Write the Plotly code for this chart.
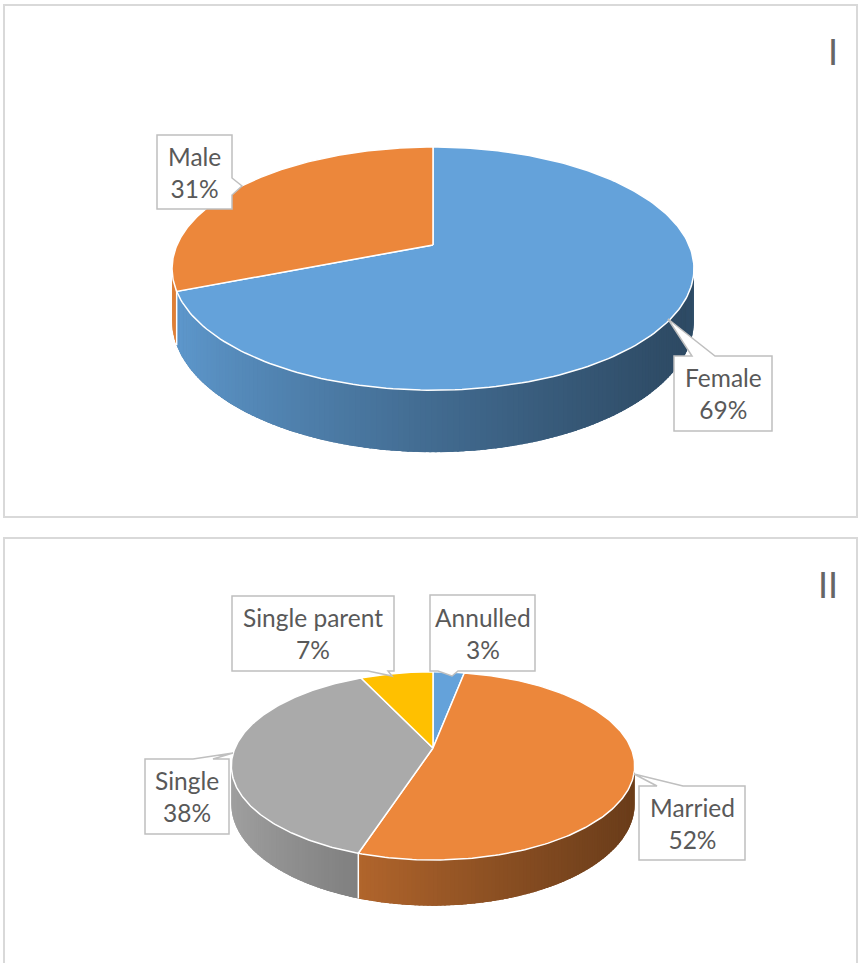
import numpy as np
import plotly.graph_objects as go

# Panel I: gender split
gender_labels = ["Female", "Male"]
gender_values = [69, 31]
gender_colors = ["#64A2DA", "#EC873B"]

# Panel II: marital status
marital_labels = ["Annulled", "Married", "Single", "Single parent"]
marital_values = [3, 52, 38, 7]
marital_colors = ["#64A2DA", "#EC873B", "#AAAAAA", "#FFC000"]

W, H = 860, 963
TEXT = "#595959"
FONT = "Lato"


def hex_rgb(h):
    h = h.lstrip("#")
    return np.array([int(h[i:i + 2], 16) for i in (0, 2, 4)], dtype=float)


def shade(h, f):
    r, g, b = np.clip(hex_rgb(h) * f, 0, 255).astype(int)
    return f"rgb({r},{g},{b})"


class Pie3D:
    """Tilted pie seen in perspective; angles run clockwise from 12 o'clock."""

    def __init__(self, cx, cy, a, b, k, depth):
        self.cx, self.cy, self.a, self.b, self.k, self.d = cx, cy, a, b, k, depth

    def top(self, t):
        u, v = np.sin(t), -np.cos(t)
        w = 1 - self.k * v
        return self.cx + self.a * u / w, self.cy + self.b * v / w

    def bottom(self, t):
        x, y = self.top(t)
        v = -np.cos(t)
        return x, y + self.d / (1 - self.k * v)

    def x_span(self):
        ts = np.linspace(0, 2 * np.pi, 2000)
        xs, _ = self.top(ts)
        return xs.min(), xs.max()


def side_factor(frac):
    return 0.95 - 0.5 * np.clip(frac, 0, 1) ** 0.8


def add_pie(fig, pie, values, colors):
    total = float(sum(values))
    bounds = np.concatenate([[0], np.cumsum(values) / total]) * 2 * np.pi
    t_lo = np.pi - np.arccos(pie.k)   # right silhouette of the wall
    t_hi = 2 * np.pi - t_lo           # left silhouette of the wall
    xmin, xmax = pie.x_span()

    # side walls, shaded left-to-right
    for i, col in enumerate(colors):
        s0, s1 = max(bounds[i], t_lo), min(bounds[i + 1], t_hi)
        if s1 <= s0:
            continue
        # solid underlay so strip joins never show white
        ts = np.linspace(s0, s1, 200)
        xt, yt = pie.top(ts)
        xb, yb = pie.bottom(ts[::-1])
        xm = (xt.mean() - xmin) / (xmax - xmin)
        base = shade(col, side_factor(xm))
        fig.add_trace(go.Scatter(
            x=np.concatenate([xt, xb, xt[:1]]), y=np.concatenate([yt, yb, yt[:1]]),
            mode="lines", fill="toself", fillcolor=base,
            line=dict(color=base, width=0), hoverinfo="skip"))

        n = max(2, int(np.degrees(s1 - s0) / 1.0) + 1)
        ts = np.linspace(s0, s1, n)
        step = ts[1] - ts[0]
        for j in range(n - 1):
            ta, tb = ts[j], min(ts[j + 1] + 0.4 * step, s1)
            xa, ya = pie.top(ta)
            xb_, yb_ = pie.top(tb)
            xc, yc = pie.bottom(tb)
            xd, yd = pie.bottom(ta)
            frac = ((xa + xb_) / 2 - xmin) / (xmax - xmin)
            c = shade(col, side_factor(frac))
            fig.add_trace(go.Scatter(
                x=[xa, xb_, xc, xd, xa], y=[ya, yb_, yc, yd, ya],
                mode="lines", fill="toself", fillcolor=c,
                line=dict(color=c, width=0), hoverinfo="skip"))

    # white seams on the wall where slices meet
    for bnd in bounds[1:-1]:
        if t_lo < bnd < t_hi:
            x0, y0 = pie.top(bnd)
            x1, y1 = pie.bottom(bnd)
            fig.add_trace(go.Scatter(x=[x0, x1], y=[y0, y1], mode="lines",
                                     line=dict(color="white", width=1.5),
                                     hoverinfo="skip"))

    # top faces
    for i, col in enumerate(colors):
        ts = np.linspace(bounds[i], bounds[i + 1], 200)
        xs, ys = pie.top(ts)
        px = np.concatenate([[pie.cx], xs, [pie.cx]])
        py = np.concatenate([[pie.cy], ys, [pie.cy]])
        fig.add_trace(go.Scatter(x=px, y=py, mode="lines", fill="toself",
                                 fillcolor=col,
                                 line=dict(color="white", width=1.5),
                                 hoverinfo="skip"))


def callout_path(x0, y0, x1, y1, side, b0, b1, tip):
    """Rectangle outline with a wedge on one side pointing to tip."""
    tx, ty = tip
    if side == "top":
        pts = [(x0, y0), (b0, y0), (tx, ty), (b1, y0), (x1, y0), (x1, y1), (x0, y1)]
    elif side == "bottom":
        pts = [(x0, y0), (x1, y0), (x1, y1), (b1, y1), (tx, ty), (b0, y1), (x0, y1)]
    elif side == "right":
        pts = [(x0, y0), (x1, y0), (x1, b0), (tx, ty), (x1, b1), (x1, y1), (x0, y1)]
    else:
        pts = [(x0, y0), (x1, y0), (x1, y1), (x0, y1), (x0, b1), (tx, ty), (x0, b0)]
    return "M " + " L ".join(f"{x:.1f},{y:.1f}" for x, y in pts) + " Z"


fig = go.Figure()

# panel frames
for y0, y1 in [(5, 517), (538, 975)]:
    fig.add_shape(type="rect", x0=4, x1=857, y0=y0, y1=y1,
                  line=dict(color="#D9D9D9", width=2), fillcolor="white",
                  layer="below")

pie1 = Pie3D(cx=433, cy=245, a=256, b=117, k=0.194, depth=50)
pie2 = Pie3D(cx=433, cy=748, a=198, b=90.7, k=0.19, depth=37)
add_pie(fig, pie1, gender_values, gender_colors)
add_pie(fig, pie2, marital_values, marital_colors)

# data-label callouts: (box x0, y0, x1, y1, wedge side, base0, base1, tip)
gender_boxes = {
    "Female": (674, 356, 772, 431, "top", 692, 715, (668, 319)),
    "Male": (157, 135, 232, 209, "right", 178, 195, (242, 186)),
}
marital_boxes = {
    "Annulled": (430, 595, 535, 671, "bottom", 438, 458, (452, 676)),
    "Married": (639, 786, 745, 860, "top", 657, 683, (634, 774)),
    "Single": (145, 759, 229, 834, "top", 193, 213, (233, 753)),
    "Single parent": (232, 596, 394, 671, "bottom", 368, 388, (392, 676)),
}

for labels, values, boxes in [(gender_labels, gender_values, gender_boxes),
                              (marital_labels, marital_values, marital_boxes)]:
    total = sum(values)
    for name, val in zip(labels, values):
        x0, y0, x1, y1, side, b0, b1, tip = boxes[name]
        fig.add_shape(type="path",
                      path=callout_path(x0, y0, x1, y1, side, b0, b1, tip),
                      fillcolor="white", line=dict(color="#BFBFBF", width=1.5),
                      layer="above")
        pct = round(100 * val / total)
        fig.add_annotation(x=(x0 + x1) / 2, y=(y0 + y1) / 2,
                           text=f"{name}<br>{pct}%", showarrow=False,
                           font=dict(family=FONT, size=24.5, color=TEXT),
                           xanchor="center", yanchor="middle")

# panel numerals
for txt, y in [("I", 51), ("II", 584)]:
    fig.add_annotation(x=840, y=y, text=txt, showarrow=False,
                       xanchor="right", yanchor="middle",
                       font=dict(family=FONT, size=36, color="#666666"))

fig.update_layout(
    width=W, height=H, margin=dict(l=0, r=0, t=0, b=0),
    paper_bgcolor="white", plot_bgcolor="white", showlegend=False,
    xaxis=dict(range=[0, W], visible=False, fixedrange=True),
    yaxis=dict(range=[H, 0], visible=False, fixedrange=True),
)

fig.write_html("out.html")
